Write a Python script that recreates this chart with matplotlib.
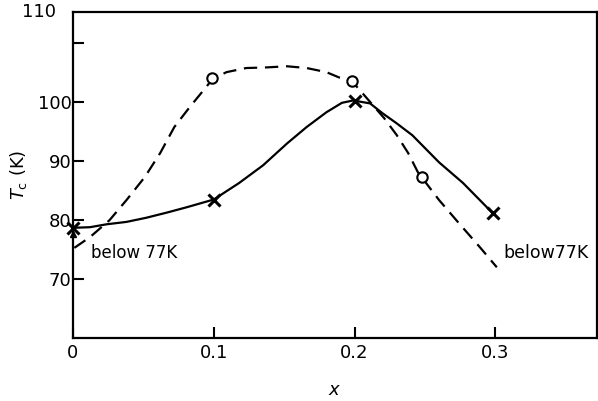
import matplotlib.pyplot as plt

# Tc vs x, solid curve (x markers) and dashed curve (open circles)
solid_x = [0.0, 0.012, 0.024, 0.038, 0.052, 0.067, 0.081, 0.1, 0.118, 0.135,
           0.152, 0.166, 0.18, 0.191, 0.199, 0.211, 0.22, 0.23, 0.241, 0.26,
           0.277, 0.298]
solid_y = [78.7, 78.8, 79.3, 79.7, 80.4, 81.3, 82.2, 83.5, 86.3, 89.3,
           93.0, 95.8, 98.3, 99.9, 100.3, 99.8, 98.1, 96.4, 94.4, 89.8,
           86.3, 81.2]
cross_x = [0.0, 0.1, 0.2, 0.298]
cross_y = [78.7, 83.5, 100.2, 81.2]

dash_x = [0.001, 0.012, 0.026, 0.038, 0.051, 0.062, 0.072, 0.083, 0.094, 0.099,
          0.109, 0.123, 0.137, 0.152, 0.166, 0.18, 0.189, 0.198, 0.205, 0.213,
          0.221, 0.23, 0.238, 0.245, 0.26, 0.274, 0.289, 0.301]
dash_y = [75.3, 77.1, 80.0, 83.4, 87.3, 91.4, 95.8, 99.2, 102.4, 103.9,
          105.1, 105.8, 105.9, 106.1, 105.8, 105.1, 104.2, 103.6, 101.7, 99.5,
          97.3, 94.4, 91.4, 88.1, 83.4, 79.5, 75.4, 72.0]
circ_x = [0.099, 0.198, 0.248]
circ_y = [104.1, 103.6, 87.3]

fig = plt.figure(figsize=(5.98, 4.01), dpi=100)
ax = fig.add_axes([0.122, 0.157, 0.876, 0.813])

ax.plot(solid_x, solid_y, color="black", lw=1.6)
ax.plot(cross_x, cross_y, "x", color="black", ms=8, mew=2.2, clip_on=False)
ax.plot([0.0], [77.6], "^", color="black", ms=5, clip_on=False)
ax.plot(dash_x, dash_y, color="black", lw=1.6, dashes=(6, 3.5))
ax.plot(circ_x, circ_y, "o", mfc="white", mec="black", ms=7.5, mew=1.5)

ax.text(0.013, 74.5, "below 77K", fontsize=12, va="center")
ax.text(0.306, 74.5, "below77K", fontsize=12.5, va="center")

ax.set_xlim(0, 0.372)
ax.set_ylim(60, 115.3)
ax.set_xticks([0, 0.1, 0.2, 0.3])
ax.set_xticklabels(["0", "0.1", "0.2", "0.3"])
ax.set_yticks([70, 80, 90, 100, 110])
ax.set_yticklabels(["70", "80", "90", "100", ""])
ax.text(-0.012, 115.3, "110", fontsize=13, ha="right", va="center",
        clip_on=False)
ax.tick_params(direction="in", length=8, width=1.5, labelsize=13, pad=4)
ax.tick_params(axis="y", pad=1)
for s in ax.spines.values():
    s.set_linewidth(1.6)

ax.set_xlabel(r"$x$", fontsize=13, labelpad=14)
ax.set_ylabel(r"$T_{\rm c}$ (K)", fontsize=13, labelpad=6)

plt.savefig("out.png", dpi=100)
